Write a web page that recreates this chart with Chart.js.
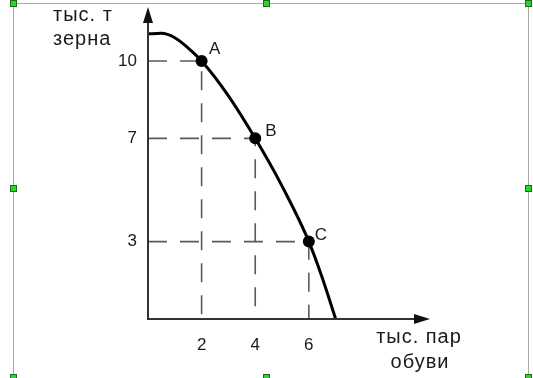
<!DOCTYPE html>
<html><head><meta charset="utf-8">
<script src="https://cdn.jsdelivr.net/npm/chart.js@4/dist/chart.umd.min.js"></script>
<style>html,body{margin:0;padding:0;background:#fff;}#wrap{width:533px;height:378px;position:relative;}</style>
</head><body><div id="wrap"><canvas id="c" width="533" height="378"></canvas></div>
<script>
// Data
const curveX = [0, 0.5, 1, 1.5, 2, 3, 4, 5, 6, 6.5, 7];
const curveY = [11.05, 11.07, 10.9, 10.5, 10, 8.65, 7, 5.15, 3, 1.6, 0];
const pointLabels = ['A', 'B', 'C'];
const pointX = [2, 4, 6];
const pointY = [10, 7, 3];
const xTicks = [2, 4, 6];
const yTicks = [3, 7, 10];
const yTitle = ['тыс. т', 'зерна'];
const xTitle = ['тыс. пар', 'обуви'];

const FONT = '"Liberation Sans", Arial, sans-serif';
const dashSets = pointX.map((x, i) => ({
  data: [{x: 0, y: pointY[i]}, {x: x, y: pointY[i]}, {x: x, y: 0}],
  showLine: true, borderColor: '#5a5a5a', borderWidth: 1.6, borderDash: [19, 13],
  pointRadius: 0, tension: 0, order: 3
}));

const labelOffsets = [[7.5, -7], [10, -2], [6, -2]];

const deco = {
  id: 'deco',
  beforeDraw(chart) {
    const ctx = chart.ctx;
    ctx.save();
    ctx.fillStyle = '#fff'; ctx.fillRect(0, 0, 533, 378);
    ctx.strokeStyle = '#aaa'; ctx.lineWidth = 1;
    ctx.beginPath();
    ctx.moveTo(13.5, 378); ctx.lineTo(13.5, 3.5); ctx.lineTo(528.5, 3.5); ctx.lineTo(528.5, 378);
    ctx.stroke();
    const handles = [[13, 3], [266, 3], [528, 3], [13, 188], [528, 188], [13, 377], [266, 377], [528, 377]];
    handles.forEach(([hx, hy]) => {
      ctx.fillStyle = '#22dd22'; ctx.fillRect(hx - 3, hy - 3, 7, 7);
      ctx.strokeStyle = '#226622'; ctx.strokeRect(hx - 2.5, hy - 2.5, 6, 6);
    });
    ctx.restore();
  },
  afterDatasetsDraw(chart) {
    const ctx = chart.ctx, xs = chart.scales.x, ys = chart.scales.y;
    const ox = xs.getPixelForValue(0), oy = ys.getPixelForValue(0);
    const top = chart.chartArea.top, right = chart.chartArea.right;
    ctx.save();
    ctx.strokeStyle = '#333'; ctx.fillStyle = '#111'; ctx.lineWidth = 2;
    ctx.beginPath(); ctx.moveTo(ox, oy); ctx.lineTo(ox, top + 12); ctx.stroke();
    ctx.beginPath(); ctx.moveTo(ox - 1, oy); ctx.lineTo(right - 12, oy); ctx.stroke();
    ctx.beginPath(); ctx.moveTo(ox, top); ctx.lineTo(ox - 5, top + 16); ctx.lineTo(ox + 5, top + 16); ctx.closePath(); ctx.fill();
    ctx.beginPath(); ctx.moveTo(right, oy); ctx.lineTo(right - 16, oy - 5); ctx.lineTo(right - 16, oy + 5); ctx.closePath(); ctx.fill();
    // point labels
    ctx.font = '17px ' + FONT; ctx.fillStyle = '#1a1a1a'; ctx.textBaseline = 'alphabetic'; ctx.textAlign = 'left';
    pointLabels.forEach((t, i) => {
      ctx.fillText(t, xs.getPixelForValue(pointX[i]) + labelOffsets[i][0], ys.getPixelForValue(pointY[i]) + labelOffsets[i][1]);
    });
    // axis titles
    ctx.font = '20px ' + FONT;
    ctx.letterSpacing = '1px';
    ctx.fillText(yTitle[0], 53, 21);
    ctx.fillText(yTitle[1], 53, 45);
    ctx.textAlign = 'center';
    ctx.fillText(xTitle[0], 419, 343);
    ctx.fillText(xTitle[1], 420, 368);
    ctx.restore();
  }
};

new Chart(document.getElementById('c'), {
  type: 'scatter',
  data: {
    datasets: [
      { data: curveX.map((x, i) => ({x, y: curveY[i]})), showLine: true, borderColor: '#000', borderWidth: 3,
        pointRadius: 0, cubicInterpolationMode: 'monotone', order: 2 },
      { data: pointX.map((x, i) => ({x, y: pointY[i]})), showLine: false, backgroundColor: '#000', borderColor: '#000',
        pointRadius: 6, borderWidth: 0, order: 1 },
      ...dashSets
    ]
  },
  options: {
    responsive: false, animation: false, devicePixelRatio: 1,
    layout: { autoPadding: false, padding: { top: 7, right: 103, left: 0, bottom: 0 } },
    plugins: { legend: { display: false }, tooltip: { enabled: false } },
    scales: {
      x: { type: 'linear', min: 0, max: 10.52,
        afterBuildTicks: s => { s.ticks = xTicks.map(v => ({value: v})); },
        afterFit: s => { s.height = 59; s.paddingLeft = 0; s.paddingRight = 0; },
        grid: { display: false, drawTicks: false }, border: { display: false },
        ticks: { padding: 16, color: '#1a1a1a', font: { size: 17, family: FONT } } },
      y: { type: 'linear', min: 0, max: 12.09,
        afterBuildTicks: s => { s.ticks = yTicks.map(v => ({value: v})); },
        afterFit: s => { s.width = 148; s.paddingTop = 0; s.paddingBottom = 0; },
        grid: { display: false, drawTicks: false }, border: { display: false },
        ticks: { padding: 11, color: '#1a1a1a', font: { size: 17, family: FONT } } }
    }
  },
  plugins: [deco]
});
</script></body></html>
